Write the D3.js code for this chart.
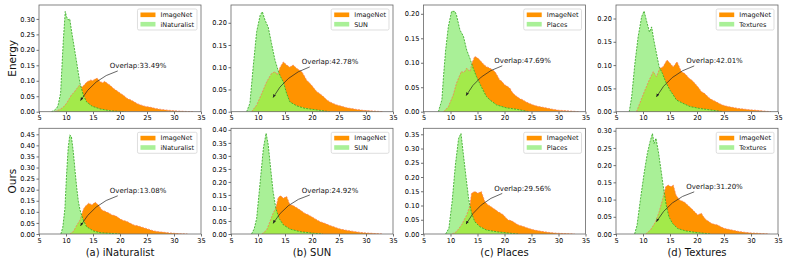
<!DOCTYPE html>
<html><head><meta charset="utf-8">
<script src="https://cdn.jsdelivr.net/npm/d3@7"></script>
<style>body{margin:0;background:#fff}svg{display:block}text{font-family:"DejaVu Sans",sans-serif}</style>
</head><body><svg id="c" width="789" height="264"></svg>
<script>
// ---------- data (x = score, y = density) ----------
const rowLabels = ["Energy", "Ours"];
const captions = ["(a) iNaturalist", "(b) SUN", "(c) Places", "(d) Textures"];
const oodNames = ["iNaturalist", "SUN", "Places", "Textures"];
const overlapLabels = [["Overlap:33.49%", "Overlap:42.78%", "Overlap:47.69%", "Overlap:42.01%"],
                       ["Overlap:13.08%", "Overlap:24.92%", "Overlap:29.56%", "Overlap:31.20%"]];
const xTicks = [5, 10, 15, 20, 25, 30, 35];
const yMax = [[0.345, 0.240, 0.218, 0.229], [0.477, 0.406, 0.371, 0.307]];
const yTickMax = [[0.30, 0.20, 0.20, 0.20], [0.45, 0.40, 0.35, 0.30]];
// annotation: [text x, text y, arrow target x, arrow target y]
const annot = [[[18.1, 0.148, 12.7, 0.036], [18.1, 0.112, 12.8, 0.032], [18.1, 0.104, 12.9, 0.033], [18.0, 0.109, 12.5, 0.032]],
               [[18.1, 0.195, 12.7, 0.037], [18.1, 0.169, 12.8, 0.041], [18.1, 0.160, 12.9, 0.035], [18.0, 0.137, 12.5, 0.036]]];

const energyINatID = [[7.9,0],[8.9,0.0075],[9.5,0.015],[10.1,0.027],[10.6,0.042],[11.0,0.054],[11.5,0.063],[12.0,0.075],[12.5,0.086],[12.9,0.079],[13.2,0.083],[13.8,0.095],[14.5,0.102],[15.0,0.101],[15.4,0.106],[15.8,0.108],[16.3,0.097],[16.8,0.094],[17.2,0.098],[17.6,0.092],[18.2,0.085],[18.8,0.075],[19.4,0.068],[20.1,0.059],[20.7,0.052],[21.3,0.043],[22.0,0.038],[22.6,0.032],[23.2,0.026],[23.8,0.022],[24.7,0.017],[25.7,0.014],[26.6,0.010],[27.6,0.0075],[28.8,0.005],[30,0.003],[32,0.001],[33.5,0]];
const energyINatOOD = [[7.3,0],[7.8,0.004],[8.3,0.012],[8.55,0.022],[9.0,0.06],[9.25,0.146],[9.5,0.23],[9.86,0.324],[10.1,0.307],[10.4,0.297],[10.7,0.30],[11.0,0.264],[11.35,0.227],[11.85,0.173],[12.3,0.124],[12.6,0.092],[13.2,0.054],[13.8,0.032],[14.8,0.018],[16.3,0.009],[18.2,0.003],[20,0.001],[21,0]];

const energySunID = [[8.8,0],[9.75,0.015],[10.7,0.041],[11.6,0.067],[12.5,0.086],[13.15,0.09],[13.6,0.083],[14.1,0.10],[14.7,0.112],[15.3,0.105],[15.9,0.10],[16.5,0.105],[17.2,0.097],[17.6,0.094],[18.1,0.09],[18.5,0.082],[19.0,0.071],[19.4,0.066],[19.9,0.06],[20.4,0.052],[20.9,0.045],[21.5,0.040],[22.1,0.034],[22.7,0.027],[23.3,0.022],[24.0,0.018],[24.6,0.015],[25.5,0.012],[26.4,0.009],[27.3,0.007],[28.3,0.005],[29.5,0.003],[30.7,0.002],[33.2,0]];
const energySunOOD = [[7.9,0],[8.5,0.019],[9.1,0.10],[9.75,0.18],[10.4,0.217],[10.8,0.225],[11.3,0.206],[11.6,0.198],[11.9,0.19],[12.5,0.154],[13.15,0.116],[13.8,0.09],[14.2,0.078],[14.7,0.067],[15.3,0.041],[15.9,0.022],[17.2,0.013],[18.7,0.0075],[20.9,0.004],[23.3,0]];

const energyPlacesID = [[8.7,0],[9.6,0.01],[10.5,0.034],[11.1,0.058],[12.0,0.082],[12.5,0.080],[13.0,0.089],[13.6,0.082],[14.0,0.100],[14.5,0.113],[15.1,0.109],[15.7,0.102],[16.2,0.096],[16.65,0.092],[17.3,0.089],[18.2,0.082],[18.6,0.075],[19.1,0.065],[19.5,0.062],[20.0,0.055],[20.5,0.052],[21.0,0.048],[21.4,0.040],[21.9,0.034],[22.8,0.027],[23.4,0.024],[24.0,0.02],[24.6,0.017],[25.2,0.014],[26.1,0.011],[27.1,0.009],[28.0,0.007],[28.9,0.005],[30.0,0.003],[31.4,0.002],[33.8,0]];
const energyPlacesOOD = [[7.75,0],[8.4,0.024],[8.7,0.072],[9.1,0.126],[9.6,0.174],[10.2,0.205],[10.8,0.205],[11.1,0.198],[11.75,0.167],[12.4,0.154],[13.0,0.126],[13.6,0.109],[14.2,0.089],[14.8,0.072],[15.7,0.051],[16.65,0.031],[17.3,0.024],[18.5,0.014],[20.3,0.008],[22.2,0.005],[24.6,0]];

const energyTexID = [[8.8,0],[9.4,0.018],[10.35,0.046],[11.15,0.068],[11.9,0.086],[12.5,0.075],[13.1,0.093],[13.7,0.096],[14.45,0.111],[15.0,0.104],[15.6,0.096],[16.3,0.107],[17.1,0.086],[17.6,0.083],[18.0,0.079],[18.5,0.072],[19.0,0.068],[19.5,0.062],[19.9,0.057],[20.4,0.050],[20.8,0.043],[21.3,0.040],[21.7,0.036],[22.2,0.030],[22.7,0.026],[23.6,0.021],[24.2,0.017],[24.8,0.014],[25.7,0.011],[26.7,0.009],[27.6,0.007],[28.5,0.006],[29.7,0.004],[31.0,0.003],[32.3,0.0015],[33.7,0]];
const energyTexOOD = [[7.45,0],[7.9,0.032],[8.5,0.104],[9.1,0.161],[9.75,0.204],[10.2,0.216],[10.7,0.193],[11.2,0.171],[11.6,0.182],[12.0,0.154],[12.5,0.125],[13.0,0.096],[13.6,0.082],[14.2,0.064],[15.0,0.046],[15.6,0.036],[16.2,0.025],[17.4,0.018],[18.7,0.011],[20.5,0.007],[23.0,0.003],[24.8,0]];

const oursINatID = [[10.7,0],[11.4,0.012],[12.0,0.04],[12.6,0.063],[13.2,0.11],[13.5,0.123],[14.2,0.139],[14.8,0.131],[15.4,0.143],[16.0,0.131],[16.65,0.108],[17.1,0.104],[17.6,0.098],[18.0,0.094],[18.5,0.086],[19.0,0.083],[19.45,0.078],[19.9,0.070],[20.4,0.063],[20.8,0.060],[21.3,0.056],[22.0,0.047],[22.6,0.04],[23.2,0.037],[23.8,0.033],[24.5,0.027],[25.1,0.023],[25.7,0.018],[26.3,0.0135],[27.2,0.010],[28.2,0.0075],[29.1,0.005],[30,0.003],[31.2,0.0015],[32.5,0]];
const oursINatOOD = [[9.05,0],[9.4,0.03],[9.8,0.116],[10.1,0.267],[10.4,0.387],[10.7,0.447],[11.0,0.44],[11.35,0.372],[11.7,0.28],[12.0,0.206],[12.3,0.146],[12.6,0.108],[13.2,0.063],[13.8,0.033],[15.1,0.0135],[16.3,0.006],[18.8,0.002],[20,0]];

const oursSunID = [[10.7,0],[11.6,0.015],[12.2,0.047],[12.8,0.08],[13.3,0.10],[13.75,0.14],[14.2,0.147],[14.7,0.137],[15.3,0.144],[15.9,0.112],[16.4,0.110],[16.85,0.105],[17.3,0.099],[17.8,0.092],[18.2,0.086],[18.7,0.079],[19.2,0.075],[19.6,0.07],[20.1,0.064],[20.6,0.058],[21.0,0.053],[21.5,0.047],[22.2,0.042],[22.8,0.037],[23.4,0.032],[24.0,0.028],[24.6,0.023],[25.2,0.019],[26.1,0.015],[27.1,0.012],[28.0,0.009],[29.0,0.006],[30.0,0.004],[30.8,0.003],[33,0]];
const oursSunOOD = [[8.8,0],[9.3,0.02],[9.75,0.06],[10.4,0.20],[11.0,0.33],[11.5,0.387],[11.9,0.342],[12.35,0.25],[12.8,0.163],[13.3,0.099],[13.9,0.06],[14.7,0.035],[15.9,0.019],[17.8,0.009],[20.25,0.003],[22,0]];

const oursPlacesID = [[10.3,0],[11.1,0.008],[12.05,0.032],[13.0,0.067],[13.6,0.10],[13.9,0.143],[14.5,0.149],[15.1,0.143],[15.7,0.149],[16.35,0.114],[16.95,0.102],[17.4,0.097],[17.9,0.09],[18.4,0.084],[18.8,0.078],[19.3,0.073],[19.8,0.067],[20.2,0.058],[20.7,0.049],[21.2,0.047],[21.6,0.043],[22.1,0.037],[22.55,0.032],[23.0,0.029],[23.5,0.026],[24.1,0.022],[24.7,0.018],[25.5,0.014],[26.3,0.011],[27.3,0.008],[28.4,0.005],[29.6,0.003],[30.9,0.0015],[33,0]];
const oursPlacesOOD = [[9.1,0],[9.7,0.02],[10.3,0.114],[10.9,0.242],[11.5,0.336],[11.95,0.353],[12.4,0.277],[12.9,0.196],[13.35,0.125],[13.9,0.073],[14.5,0.043],[15.4,0.026],[16.65,0.014],[18.5,0.008],[20.9,0.003],[22.5,0]];

const oursTexID = [[10.5,0],[11.4,0.012],[12.35,0.036],[13.0,0.065],[13.6,0.099],[14.2,0.137],[14.65,0.142],[15.2,0.137],[15.6,0.142],[16.1,0.113],[16.75,0.099],[17.2,0.096],[17.7,0.092],[18.2,0.085],[18.6,0.079],[19.1,0.072],[19.5,0.065],[20.15,0.055],[20.8,0.06],[21.2,0.050],[21.7,0.041],[22.2,0.036],[22.6,0.031],[23.2,0.028],[23.8,0.026],[24.5,0.020],[25.1,0.016],[26.0,0.013],[26.9,0.01],[27.8,0.007],[28.8,0.005],[30.0,0.003],[31.2,0.002],[33.4,0]];
const oursTexOOD = [[8.45,0],[8.9,0.026],[9.55,0.104],[10.2,0.176],[10.8,0.234],[11.3,0.268],[11.75,0.292],[12.05,0.263],[12.4,0.278],[12.85,0.239],[13.3,0.19],[13.8,0.133],[14.3,0.084],[14.8,0.05],[15.45,0.031],[16.4,0.016],[17.9,0.009],[20.1,0.004],[22.6,0]];

const idSeries = [[energyINatID, energySunID, energyPlacesID, energyTexID], [oursINatID, oursSunID, oursPlacesID, oursTexID]];
const oodSeries = [[energyINatOOD, energySunOOD, energyPlacesOOD, energyTexOOD], [oursINatOOD, oursSunOOD, oursPlacesOOD, oursTexOOD]];

// ---------- layout / style ----------
const lefts = [39, 231, 423.5, 616], pw = 162;
const tops = [5, 128.3], bottoms = [111.7, 234];
const C = {orange: "#ff9300", green: "#a9f097", both: "#a3ea4a", oLine: "#f77d55", gLine: "#2fa31c"};

const svg = d3.select("#c");
const defs = svg.append("defs");
defs.append("marker").attr("id", "ah").attr("viewBox", "0 0 10 10").attr("refX", 9).attr("refY", 5)
  .attr("markerWidth", 5).attr("markerHeight", 5).attr("orient", "auto-start-reverse")
  .append("path").attr("d", "M0,1 L10,5 L0,9 Z").attr("fill", "#222");

let uid = 0;
for (let r = 0; r < 2; r++) {
  for (let c = 0; c < 4; c++) {
    const x = d3.scaleLinear().domain([5, 35]).range([lefts[c], lefts[c] + pw]);
    const y = d3.scaleLinear().domain([0, yMax[r][c]]).range([bottoms[r], tops[r]]);
    const g = svg.append("g");
    const area = d3.area().x(d => x(d[0])).y0(y(0)).y1(d => y(d[1]));
    const line = d3.line().x(d => x(d[0])).y(d => y(d[1]));
    const id = idSeries[r][c], ood = oodSeries[r][c];
    const clipId = "clip" + (uid++);
    const pClip = g.append("clipPath").attr("id", clipId);
    pClip.append("path").attr("d", area(id));
    const cp = g.append("clipPath").attr("id", clipId + "b");
    cp.append("rect").attr("x", lefts[c]).attr("y", tops[r]).attr("width", pw).attr("height", bottoms[r] - tops[r]);
    const plot = g.append("g").attr("clip-path", `url(#${clipId}b)`);
    plot.append("path").attr("d", area(id)).attr("fill", C.orange);
    plot.append("path").attr("d", area(ood)).attr("fill", C.green);
    plot.append("path").attr("d", area(ood)).attr("fill", C.both).attr("clip-path", `url(#${clipId})`);
    plot.append("path").attr("d", line(id)).attr("fill", "none").attr("stroke", C.oLine).attr("stroke-width", 0.8).attr("stroke-dasharray", "2,1.2");
    plot.append("path").attr("d", line(ood)).attr("fill", "none").attr("stroke", C.gLine).attr("stroke-width", 0.8).attr("stroke-dasharray", "2,1.2");

    // axes
    const yTicks = d3.range(0, Math.round(yTickMax[r][c] / 0.05) + 1).map(i => +(i * 0.05).toFixed(2));
    const ax = g.append("g").attr("transform", `translate(0,${bottoms[r]})`)
      .call(d3.axisBottom(x).tickValues(xTicks).tickSize(2.5).tickPadding(1.5).tickFormat(d3.format("d")));
    const ay = g.append("g").attr("transform", `translate(${lefts[c]},0)`)
      .call(d3.axisLeft(y).tickValues(yTicks).tickSize(2.5).tickPadding(1.5).tickFormat(d3.format(".2f")));
    [ax, ay].forEach(a => {
      a.select(".domain").remove();
      a.selectAll("line").attr("stroke", "#333").attr("stroke-width", 0.7);
      a.selectAll("text").attr("font-size", 6.6).attr("fill", "#000").attr("font-family", "DejaVu Sans");
    });
    g.append("rect").attr("x", lefts[c]).attr("y", tops[r]).attr("width", pw).attr("height", bottoms[r] - tops[r])
      .attr("fill", "none").attr("stroke", "#666").attr("stroke-width", 0.8);

    // legend
    const lg = g.append("g");
    const names = ["ImageNet", oodNames[c]], cols = [C.orange, C.green];
    const txts = names.map((n, i) => lg.append("text").text(n).attr("font-size", 6.5).attr("fill", "#111"));
    const tw = d3.max(txts, t => t.node().getComputedTextLength());
    const bw = 3 + 15 + 5 + tw + 3, bx = lefts[c] + pw - 4 - bw, by = tops[r] + 4;
    lg.insert("rect", "text").attr("x", bx).attr("y", by).attr("width", bw).attr("height", 21).attr("rx", 1.5)
      .attr("fill", "#fff").attr("fill-opacity", 0.85).attr("stroke", "#d0d0d0").attr("stroke-width", 0.7);
    names.forEach((n, i) => {
      const cy = by + 5.8 + i * 9.4;
      lg.insert("rect", "text").attr("x", bx + 3).attr("y", cy - 2.3).attr("width", 15).attr("height", 4.6).attr("fill", cols[i]);
      txts[i].attr("x", bx + 23).attr("y", cy + 2.3);
    });

    // annotation
    const [tx, ty, px, py] = annot[r][c];
    const tX = x(tx), tY = y(ty);
    g.append("text").attr("x", tX).attr("y", tY + 2.5).text(overlapLabels[r][c]).attr("font-size", 7).attr("fill", "#111");
    const sx = tX + 8, sy = tY + 5, ex = x(px), ey = y(py);
    const dx = ex - sx, dy = ey - sy;
    const cx = (sx + ex) / 2 - 0.2 * dy, cyy = (sy + ey) / 2 + 0.2 * dx;
    g.append("path").attr("d", `M${sx},${sy} Q${cx},${cyy} ${ex},${ey}`).attr("fill", "none")
      .attr("stroke", "#222").attr("stroke-width", 0.7).attr("marker-end", "url(#ah)");
  }
}
// row labels
rowLabels.forEach((t, r) => {
  const cy = (tops[r] + bottoms[r]) / 2;
  svg.append("text").attr("transform", `translate(15.5,${cy}) rotate(-90)`).attr("text-anchor", "middle")
    .attr("font-size", 10.5).attr("fill", "#111").text(t);
});
captions.forEach((t, c) => {
  svg.append("text").attr("x", lefts[c] + pw / 2).attr("y", 256).attr("text-anchor", "middle")
    .attr("font-size", 10).attr("fill", "#111").text(t);
});
</script></body></html>
